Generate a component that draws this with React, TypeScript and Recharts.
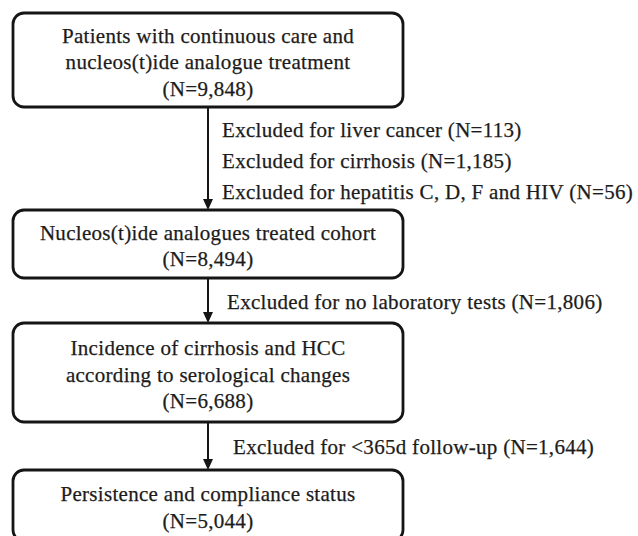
import React from 'react';
import { ComposedChart, XAxis, YAxis, ReferenceArea, ReferenceLine, ReferenceDot } from 'recharts';

// ---- data ----
const boxTitles: string[][] = [
  ['Patients with continuous care and', 'nucleos(t)ide analogue treatment'],
  ['Nucleos(t)ide analogues treated cohort'],
  ['Incidence of cirrhosis and HCC', 'according to serological changes'],
  ['Persistence and compliance status'],
];
const boxCounts: number[] = [9848, 8494, 6688, 5044];

const exclusionReasons: string[][] = [
  ['liver cancer', 'cirrhosis', 'hepatitis C, D, F and HIV'],
  ['no laboratory tests'],
  ['<365d follow-up'],
];
const exclusionCounts: number[][] = [[113, 1185, 56], [1806], [1644]];

// ---- layout ----
const W = 638;
const H = 536;
const BOX_X1 = 13;
const BOX_X2 = 403;
const BOX_Y: [number, number][] = [
  [13, 107],
  [210, 278],
  [323, 422],
  [470, 541],
];
const ARROW_X = 208;
const LINE_GAP = 26.5;
const EXCL_X = [222, 227, 233];
const EXCL_Y = [130, 302, 447];
const EXCL_GAP = 31;

const FONT = '"Liberation Serif", "Times New Roman", serif';
const FONT_SIZE = 21;
const TEXT_FILL = '#1c1c1c';
const STROKE = '#151515';

const fmt = (n: number) => n.toLocaleString('en-US');

const makeBoxShape = (lines: string[]) => (props: any) => {
  const { x, y, width, height } = props;
  const cx = x + width / 2;
  const cy = y + height / 2 + 2;
  const first = cy - ((lines.length - 1) * LINE_GAP) / 2;
  return (
    <g>
      <rect
        x={x}
        y={y}
        width={width}
        height={height}
        rx={11}
        ry={11}
        fill="#ffffff"
        stroke={STROKE}
        strokeWidth={2.8}
      />
      {lines.map((t, i) => (
        <text
          key={i}
          x={cx}
          y={first + i * LINE_GAP}
          textAnchor="middle"
          dominantBaseline="central"
          fontFamily={FONT}
          fontSize={FONT_SIZE}
          letterSpacing={0.3}
          fill={TEXT_FILL}
          stroke={TEXT_FILL}
          strokeWidth={0.25}
        >
          {t}
        </text>
      ))}
    </g>
  );
};

const arrowShape = (props: any) => {
  const { x1, y1, x2, y2 } = props;
  const head = 11;
  const half = 5;
  return (
    <g>
      <line x1={x1} y1={y1} x2={x2} y2={y2 - head + 1} stroke={STROKE} strokeWidth={2} />
      <polygon
        points={`${x2 - half},${y2 - head} ${x2 + half},${y2 - head} ${x2},${y2}`}
        fill={STROKE}
      />
    </g>
  );
};

const makeTextShape = (label: string) => (props: any) => {
  const { cx, cy } = props;
  return (
    <text
      x={cx}
      y={cy}
      textAnchor="start"
      dominantBaseline="central"
      fontFamily={FONT}
      fontSize={FONT_SIZE}
      letterSpacing={0.3}
      fill={TEXT_FILL}
      stroke={TEXT_FILL}
      strokeWidth={0.25}
    >
      {label}
    </text>
  );
};

export default function App() {
  const boxes = boxTitles.map((t, i) => [...t, `(N=${fmt(boxCounts[i])})`]);
  return (
    <div style={{ position: 'absolute', left: 0, top: 0, width: W, height: H, background: '#fff' }}>
      <ComposedChart width={W} height={H} margin={{ top: 0, right: 0, bottom: 0, left: 0 }}>
        <XAxis type="number" dataKey="x" domain={[0, W]} hide allowDataOverflow />
        <YAxis type="number" dataKey="y" domain={[0, H]} reversed hide allowDataOverflow />
        {BOX_Y.slice(0, -1).map((b, i) => (
          <ReferenceLine
            key={`arrow-${i}`}
            segment={[
              { x: ARROW_X, y: b[1] },
              { x: ARROW_X, y: BOX_Y[i + 1][0] },
            ]}
            shape={arrowShape}
            ifOverflow="visible"
          />
        ))}
        {boxes.map((lines, i) => (
          <ReferenceArea
            key={`box-${i}`}
            x1={BOX_X1}
            x2={BOX_X2}
            y1={BOX_Y[i][0]}
            y2={BOX_Y[i][1]}
            shape={makeBoxShape(lines)}
            ifOverflow="visible"
          />
        ))}
        {exclusionReasons.map((group, gi) =>
          group.map((reason, li) => (
            <ReferenceDot
              key={`ex-${gi}-${li}`}
              x={EXCL_X[gi]}
              y={EXCL_Y[gi] + li * EXCL_GAP}
              r={0}
              shape={makeTextShape(`Excluded for ${reason} (N=${fmt(exclusionCounts[gi][li])})`)}
              ifOverflow="visible"
            />
          ))
        )}
      </ComposedChart>
    </div>
  );
}
